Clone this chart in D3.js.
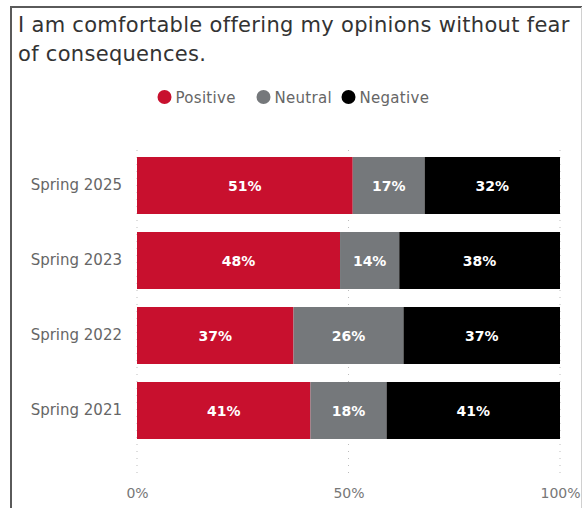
<!DOCTYPE html>
<html>
<head>
<meta charset="utf-8">
<script src="https://cdn.jsdelivr.net/npm/d3@7"></script>
<style>
  html, body { margin: 0; padding: 0; background: #fff; }
  svg { display: block; }
  text { font-family: "DejaVu Sans", sans-serif; }
</style>
</head>
<body>
<svg id="chart" width="585" height="508"></svg>
<script>
// Survey periods, top to bottom
const categories = ["Spring 2025", "Spring 2023", "Spring 2022", "Spring 2021"];
// Share of responses per period (percent)
const positive = [51, 48, 37, 41];
const neutral  = [17, 14, 26, 18];
const negative = [32, 38, 37, 41];
const seriesNames = ["Positive", "Neutral", "Negative"];
const seriesColors = ["#c8102e", "#75787b", "#000000"];
const tickValues = [0, 50, 100];
const titleLines = ["I am comfortable offering my opinions without fear", "of consequences."];

const svg = d3.select("#chart");
const W = 585, H = 508;

// Card frame
svg.append("line").attr("x1", 11).attr("x2", 11).attr("y1", 6).attr("y2", H)
  .attr("stroke", "#5a5a5a").attr("stroke-width", 2);
svg.append("line").attr("x1", 10).attr("x2", 582).attr("y1", 7).attr("y2", 7)
  .attr("stroke", "#5a5a5a").attr("stroke-width", 2);
svg.append("line").attr("x1", 581.5).attr("x2", 581.5).attr("y1", 7).attr("y2", H)
  .attr("stroke", "#d0d0d0").attr("stroke-width", 1);

// Title
svg.append("g").selectAll("text").data(titleLines).join("text")
  .attr("x", 18).attr("y", (d, i) => 32 + i * 29)
  .attr("fill", "#333").attr("font-size", 21).attr("letter-spacing", 0.3)
  .text(d => d);

// Legend
const legend = svg.append("g");
const legendX = [164.5, 263.5, 348.5];
seriesNames.forEach((name, i) => {
  legend.append("circle").attr("cx", legendX[i]).attr("cy", 97).attr("r", 7)
    .attr("fill", seriesColors[i]);
  legend.append("text").attr("x", legendX[i] + 11).attr("y", 102.5)
    .attr("fill", "#666").attr("font-size", 15).attr("letter-spacing", 0.3).text(name);
});

// Scales
const x = d3.scaleLinear().domain([0, 100]).range([137, 560]);
const y = d3.scaleBand().domain(categories).range([148, 448]).paddingInner(0.24).paddingOuter(0.12);

// Dotted gridlines
svg.append("g").selectAll("line").data(tickValues).join("line")
  .attr("x1", d => x(d)).attr("x2", d => x(d))
  .attr("y1", 150).attr("y2", 478)
  .attr("stroke", "#bdbdbd").attr("stroke-width", 1)
  .attr("stroke-dasharray", "1,6");

// Stacked data
const rows = categories.map((c, i) => ({ cat: c, Positive: positive[i], Neutral: neutral[i], Negative: negative[i] }));
const stack = d3.stack().keys(seriesNames)(rows);

const layers = svg.append("g").selectAll("g").data(stack).join("g")
  .attr("fill", (d, i) => seriesColors[i]);

layers.selectAll("rect").data(d => d).join("rect")
  .attr("x", d => x(d[0]))
  .attr("width", d => x(d[1]) - x(d[0]))
  .attr("y", d => y(d.data.cat))
  .attr("height", y.bandwidth());

// Value labels
const labels = svg.append("g");
stack.forEach(layer => {
  layer.forEach(d => {
    labels.append("text")
      .attr("x", (x(d[0]) + x(d[1])) / 2)
      .attr("y", y(d.data.cat) + y.bandwidth() / 2 + 5)
      .attr("text-anchor", "middle")
      .attr("fill", "#fff").attr("font-size", 14).attr("font-weight", "bold")
      .text(Math.round(d[1] - d[0]) + "%");
  });
});

// Category axis
const yAxis = svg.append("g").attr("transform", "translate(122,0)")
  .call(d3.axisLeft(y).tickSize(0).tickPadding(0));
yAxis.select(".domain").remove();
yAxis.selectAll("text").attr("fill", "#666").attr("font-size", 15)
  .style("font-family", "'DejaVu Sans', sans-serif");

// Value axis
const xAxis = svg.append("g").attr("transform", "translate(0,488)")
  .call(d3.axisBottom(x).tickValues(tickValues).tickFormat(d => d + "%").tickSize(0).tickPadding(0));
xAxis.select(".domain").remove();
xAxis.selectAll("text").attr("fill", "#777").attr("font-size", 14)
  .style("font-family", "'DejaVu Sans', sans-serif");
</script>
</body>
</html>
